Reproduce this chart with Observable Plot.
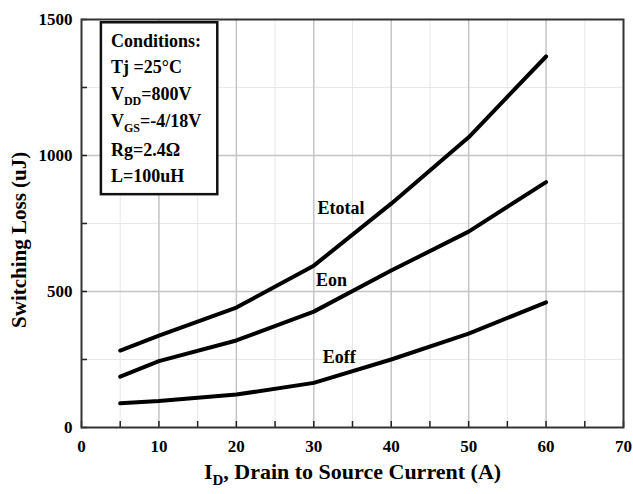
<!DOCTYPE html>
<html>
<head>
<meta charset="utf-8">
<script src="https://cdn.jsdelivr.net/npm/d3@7"></script>
<script src="https://cdn.jsdelivr.net/npm/@observablehq/plot@0.6"></script>
<style>
  html, body { margin: 0; padding: 0; background: #fff; }
</style>
</head>
<body>
<div id="chart"></div>
<script>
// Data
const current = [5, 10, 20, 30, 40, 50, 60];
const eTotal = [283, 338, 441, 595, 823, 1067, 1364];
const eOn    = [187, 244, 320, 426, 577, 720, 902];
const eOff   = [89, 97, 121, 164, 250, 345, 460];
const seriesNames = ["Etotal", "Eon", "Eoff"];
const seriesValues = [eTotal, eOn, eOff];
const seriesLabelX = [33.5, 32.3, 33.3];
const seriesLabelY = [805, 540, 257];

const xTicks = [0, 10, 20, 30, 40, 50, 60, 70];
const yTicks = [0, 500, 1000, 1500];
const xMinor = [5, 15, 25, 35, 45, 55, 65];
const yMinor = [250, 750, 1250];
const xMajorGrid = [10, 20, 30, 40, 50, 60];
const yMajorGrid = [500, 1000];

const conditions = ["Conditions:", "Tj =25°C", "VDD=800V", "VGS=-4/18V", "Rg=2.4Ω", "L=100uH"];
const conditionsY = [1419, 1323, 1224, 1125, 1018, 923];
const conditionsX = 3.8;
const boxX = [2.57, 17.6];
const boxY = [856, 1488];

const xLabel = "ID, Drain to Source Current (A)";
const yLabel = "Switching Loss (uJ)";
const yLabelPos = {x: -8.0, y: 690};

const rows = [];
seriesNames.forEach((s, i) => current.forEach((c, j) => rows.push({series: s, x: c, y: seriesValues[i][j]})));
const labels = seriesNames.map((s, i) => ({name: s, x: seriesLabelX[i], y: seriesLabelY[i]}));

const W = 633, H = 494, mL = 81, mR = 10, mT = 19, mB = 67;
const innerW = W - mL - mR, innerH = H - mT - mB;

const plot = Plot.plot({
  width: W, height: H,
  marginLeft: mL, marginRight: mR, marginTop: mT, marginBottom: mB,
  x: {domain: [0, 70]},
  y: {domain: [0, 1500]},
  style: {fontFamily: "'Liberation Serif', 'Times New Roman', serif", fontWeight: "bold", fontSize: "17px", background: "#fff", color: "#000", overflow: "visible"},
  marks: [
    Plot.ruleX(xMinor, {stroke: "#e8e8e8", strokeWidth: 1}),
    Plot.ruleY(yMinor, {stroke: "#e8e8e8", strokeWidth: 1}),
    Plot.ruleX(xMajorGrid, {stroke: "#c4c4c4", strokeWidth: 1.5}),
    Plot.ruleY(yMajorGrid, {stroke: "#c4c4c4", strokeWidth: 1.5}),
    Plot.tickX(xTicks.concat(xMinor), {x: d => d, stroke: "#222", strokeWidth: 1.5, insetTop: innerH - 6}),
    Plot.tickY(yTicks.concat(yMinor), {y: d => d, stroke: "#222", strokeWidth: 1.5, insetRight: innerW - 6}),
    Plot.axisX({ticks: xTicks, tickSize: 0, tickPadding: 12, label: null, fontSize: 17, tickFormat: d3.format("d")}),
    Plot.axisY({ticks: yTicks, tickSize: 0, tickPadding: 9, label: null, fontSize: 17, tickFormat: d3.format("d")}),
    Plot.frame({stroke: "#333", strokeWidth: 2}),
    Plot.line(rows, {x: "x", y: "y", z: "series", stroke: "#000", strokeWidth: 4, strokeLinejoin: "round", strokeLinecap: "round"}),
    Plot.text(labels, {x: "x", y: "y", text: "name", fontSize: 18, fill: "#000"}),
    Plot.rect([0], {x1: boxX[0], x2: boxX[1], y1: boxY[0], y2: boxY[1], fill: "#fff", stroke: "#111", strokeWidth: 2.5}),
    Plot.text(conditions, {x: conditionsX, y: (d, i) => conditionsY[i], text: d => d, textAnchor: "start", fontSize: 18, fill: "#000"}),
    Plot.text([xLabel], {frameAnchor: "bottom", textAnchor: "middle", dy: 51, text: d => d, fontSize: 22, fill: "#000"}),
    Plot.text([yLabel], {x: () => yLabelPos.x, y: () => yLabelPos.y, textAnchor: "middle", rotate: -90, text: d => d, fontSize: 21, fill: "#000"})
  ]
});

document.getElementById("chart").appendChild(plot);

// Subscripts for labels that need them
const subs = {
  "ID, Drain to Source Current (A)": ["I", "D", ", Drain to Source Current (A)", 15, 6],
  "VDD=800V": ["V", "DD", "=800V", 12, 5],
  "VGS=-4/18V": ["V", "GS", "=-4/18V", 12, 5]
};
d3.select(plot).selectAll("text").each(function() {
  const el = d3.select(this);
  const t = this.textContent;
  if (subs[t]) {
    const [a, b, c, fs, sh] = subs[t];
    el.text(null);
    el.append("tspan").text(a);
    el.append("tspan").attr("dy", sh).attr("font-size", fs).text(b);
    el.append("tspan").attr("dy", -sh).text(c);
  }
});
</script>
</body>
</html>
